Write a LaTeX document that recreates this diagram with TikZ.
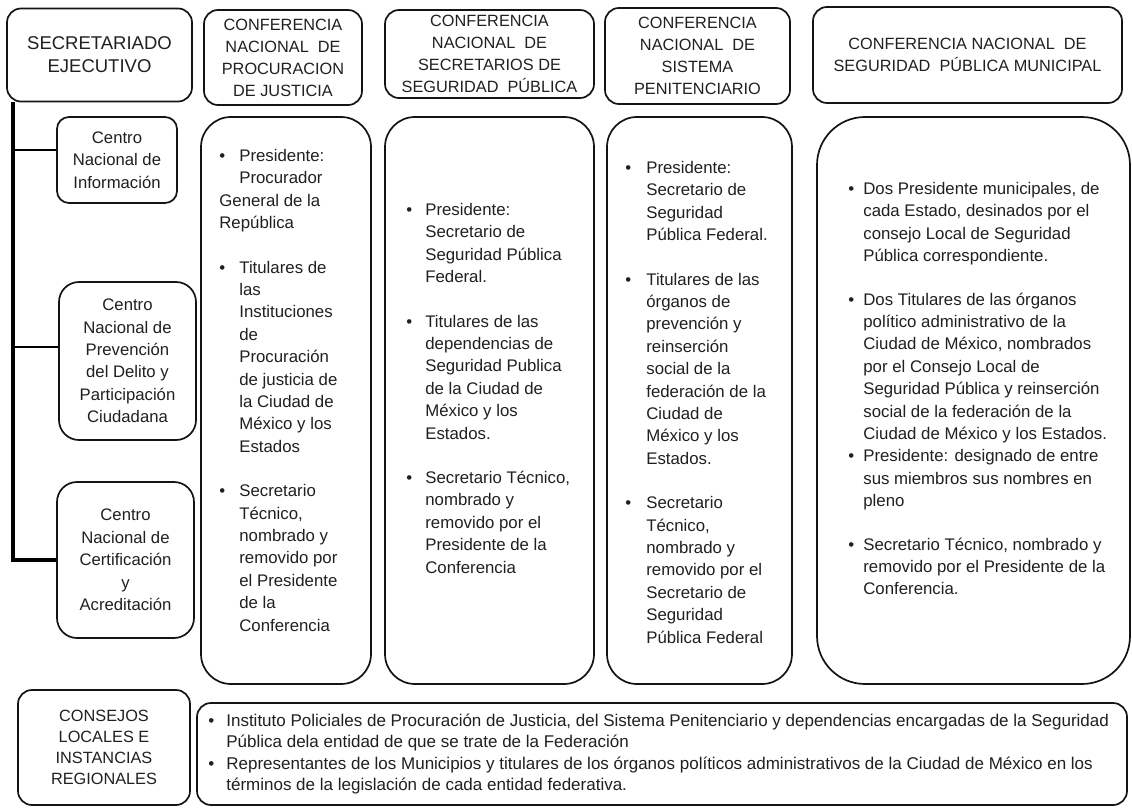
\documentclass[tikz,border=0pt]{standalone}
\usepackage{fontspec}
\setmainfont{Liberation Sans}
\usetikzlibrary{calc}
\definecolor{txt}{RGB}{32,32,32}
\definecolor{ln}{RGB}{20,20,20}
\newlength\bw
\setlength\bw{20pt}
\newcommand\bl{\makebox[\bw][l]{\textbullet}}
\newcommand\ii{\hspace*{\bw}}
\begin{document}
\begin{tikzpicture}[x=1pt,y=-1pt,
  box/.style={draw=ln, line width=1.7pt, rounded corners=#1, inner sep=0pt, fill=white},
  box/.default=14pt,
  lbl/.style={text=txt, align=center, font=\fontsize{16.7}{22.4}\selectfont, inner sep=0pt},
  hdr/.style={text=txt, align=center, font=\fontsize{16.3}{22}\selectfont, inner sep=0pt},
  body/.style={text=txt, align=left, font=\fontsize{16.8}{22.4}\selectfont, inner sep=0pt, anchor=north west},
  indent/.style={execute at begin node={\setlength\bw{#1}}},
  trunk/.style={draw=black, line width=4pt},
  branch/.style={draw=black, line width=2.6pt},
]
\useasboundingbox (0,0) rectangle (1132,810);
\fill[white] (0,0) rectangle (1132,810);

% header row
\node[box, hdr, font=\fontsize{18.5}{23}\selectfont, minimum width=185pt, minimum height=93pt] (sec) at (99.5,55) {SECRETARIADO\\EJECUTIVO};
\node[box, hdr, minimum width=158pt, minimum height=95pt] (h1) at (283,57.5) {CONFERENCIA\\NACIONAL\ \ DE\\PROCURACION\\DE JUSTICIA};
\node[box, hdr, minimum width=209pt, minimum height=88pt] (h2) at (489.5,54) {CONFERENCIA\\NACIONAL\ \ DE\\SECRETARIOS DE\\SEGURIDAD\ \ PÚBLICA};
\node[box, hdr, minimum width=185pt, minimum height=96pt] (h3) at (697.5,56) {CONFERENCIA\\NACIONAL\ \ DE\\SISTEMA\\PENITENCIARIO};
\node[box, hdr, minimum width=309pt, minimum height=96pt] (h4) at (967.5,55) {CONFERENCIA NACIONAL\ \ DE\\SEGURIDAD\ \ PÚBLICA MUNICIPAL};

% left column
\coordinate (t0) at ($(sec.south west)+(7,0)$);
\node[box=12pt, lbl, minimum width=120pt, minimum height=86pt] (c1) at (117,160) {Centro\\Nacional de\\Información};
\node[box=20pt, lbl, minimum width=137pt, minimum height=158pt] (c2) at (127.5,361) {Centro\\Nacional de\\Prevención\\del Delito y\\Participación\\Ciudadana};
\node[box=20pt, lbl, minimum width=137pt, minimum height=156pt] (c3) at (125.5,560) {Centro\\Nacional de\\Certificación\\y\\Acreditación};
\coordinate (k1) at ($(c1.west)+(0,-10)$);
\coordinate (k2) at ($(c2.west)+(0,-14)$);
\draw[trunk] (t0) |- (c3.west);
\draw[branch] (t0 |- k1) -- (k1);
\draw[branch] (t0 |- k2) -- (k2);

% body boxes
\node[box=30pt, minimum width=170pt, minimum height=567pt] (b1) at (286,400.5) {};
\node[box=30pt, minimum width=209pt, minimum height=567pt] (b2) at (489.5,400.5) {};
\node[box=30pt, minimum width=185pt, minimum height=567pt] (b3) at (699.5,400.5) {};
\node[box=48pt, minimum width=313pt, minimum height=567pt] (b4) at (973.5,400.5) {};

\node[body, indent=20pt] (t1) at ($(b1.north west)+(19,33)$) {\bl Presidente:\\
\ii Procurador\\
General de la\\
República\\[22pt]
\bl Titulares de\\
\ii las\\
\ii Instituciones\\
\ii de\\
\ii Procuración\\
\ii de justicia de\\
\ii la Ciudad de\\
\ii México y los\\
\ii Estados\\[22pt]
\bl Secretario\\
\ii Técnico,\\
\ii nombrado y\\
\ii removido por\\
\ii el Presidente\\
\ii de la\\
\ii Conferencia};

\node[body, indent=19pt] (t2) at ($(b2.north west)+(22,87)$) {\bl Presidente:\\
\ii Secretario de\\
\ii Seguridad Pública\\
\ii Federal.\\[22pt]
\bl Titulares de las\\
\ii dependencias de\\
\ii Seguridad Publica\\
\ii de la Ciudad de\\
\ii México y los\\
\ii Estados.\\[22pt]
\bl Secretario Técnico,\\
\ii nombrado y\\
\ii removido por el\\
\ii Presidente de la\\
\ii Conferencia};

\node[body, indent=21pt] (t3) at ($(b3.north west)+(19,45)$) {\bl Presidente:\\
\ii Secretario de\\
\ii Seguridad\\
\ii Pública Federal.\\[22pt]
\bl Titulares de las\\
\ii órganos de\\
\ii prevención y\\
\ii reinserción\\
\ii social de la\\
\ii federación de la\\
\ii Ciudad de\\
\ii México y los\\
\ii Estados.\\[22pt]
\bl Secretario\\
\ii Técnico,\\
\ii nombrado y\\
\ii removido por el\\
\ii Secretario de\\
\ii Seguridad\\
\ii Pública Federal};

\node[body, indent=15pt] (t4) at ($(b4.north west)+(32,66)$) {\bl Dos Presidente municipales, de\\
\ii cada Estado, desinados por el\\
\ii consejo Local de Seguridad\\
\ii Pública correspondiente.\\[21pt]
\bl Dos Titulares de las órganos\\
\ii político administrativo de la\\
\ii Ciudad de México, nombrados\\
\ii por el Consejo Local de\\
\ii Seguridad Pública y reinserción\\
\ii social de la federación de la\\
\ii Ciudad de México y los Estados.\\
\bl Presidente: designado de entre\\
\ii sus miembros sus nombres en\\
\ii pleno\\[21pt]
\bl Secretario Técnico, nombrado y\\
\ii removido por el Presidente de la\\
\ii Conferencia.};

% bottom row
\node[box, hdr, font=\fontsize{16.3}{20.8}\selectfont, minimum width=172pt, minimum height=115pt] (cons) at (104,747.5) {CONSEJOS\\LOCALES E\\INSTANCIAS\\REGIONALES};
\node[box, minimum width=930pt, minimum height=102pt] (bt) at (662,754) {};
\node[body, indent=18pt, anchor=west, font=\fontsize{17}{21.5}\selectfont] (tb) at ($(bt.west)+(12,0)$) {\bl Instituto Policiales de Procuración de Justicia, del Sistema Penitenciario y dependencias encargadas de la Seguridad\\
\ii Pública dela entidad de que se trate de la Federación\\
\bl Representantes de los Municipios y titulares de los órganos políticos administrativos de la Ciudad de México en los\\
\ii términos de la legislación de cada entidad federativa.};
\end{tikzpicture}
\end{document}
